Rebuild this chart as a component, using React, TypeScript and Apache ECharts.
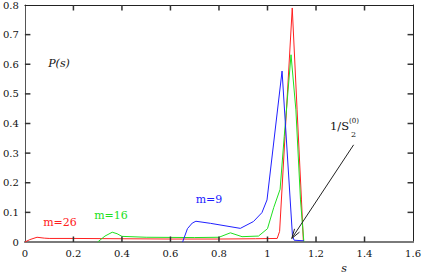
import React, { useEffect, useRef } from "react";
import * as echarts from "echarts";

const xTicks = [0, 0.2, 0.4, 0.6, 0.8, 1, 1.2, 1.4, 1.6];
const yTicks = [0, 0.1, 0.2, 0.3, 0.4, 0.5, 0.6, 0.7, 0.8];

const red26: [number, number][] = [
  [0, 0], [0.02, 0.008], [0.05, 0.016], [0.08, 0.013], [0.1, 0.012], [0.2, 0.012],
  [0.4, 0.011], [0.6, 0.01], [0.8, 0.01], [0.95, 0.011], [1.04, 0.012], [1.05, 0.036],
  [1.102, 0.79], [1.122, 0.446], [1.14, 0.142], [1.148, 0],
];
const green16: [number, number][] = [
  [0.3, 0], [0.33, 0.02], [0.36, 0.033], [0.38, 0.028], [0.4, 0.019], [0.5, 0.016],
  [0.7, 0.015], [0.8, 0.016], [0.847, 0.031], [0.895, 0.018], [0.963, 0.02], [1.0, 0.045],
  [1.026, 0.117], [1.052, 0.178], [1.069, 0.356], [1.097, 0.632], [1.117, 0.446],
  [1.136, 0.142], [1.15, 0],
];
const blue9: [number, number][] = [
  [0.65, 0], [0.67, 0.045], [0.69, 0.064], [0.705, 0.07], [0.765, 0.063], [0.888, 0.046],
  [0.942, 0.069], [0.977, 0.099], [0.998, 0.142], [1.06, 0.577], [1.103, 0.02],
  [1.11, 0.006], [1.15, 0.004],
];
const arrowFrom: [number, number] = [1.355, 0.328];
const arrowTo: [number, number] = [1.1, 0.012];

const FONT = "DejaVu Serif";

export default function App() {
  const ref = useRef<HTMLDivElement>(null);
  useEffect(() => {
    if (!ref.current) return;
    const chart = echarts.init(ref.current, null, { renderer: "svg" });
    chart.setOption({
      animation: false,
      textStyle: { fontFamily: FONT },
      grid: { left: 23, right: 10, top: 4, bottom: 36 },
      xAxis: [
        {
          type: "value", min: 0, max: 1.6, interval: 0.2,
          position: "bottom",
          axisLine: { show: true, onZero: false, lineStyle: { color: "#7a7a7a", width: 2 } },
          axisTick: { show: false },
          axisLabel: {
            color: "#111", fontFamily: FONT, fontSize: 10, margin: 6,
            formatter: (v: number) => String(+v.toFixed(1)),
          },
          splitLine: { show: false },
        },
        {
          type: "value", min: 0, max: 1.6, interval: 0.2,
          position: "top",
          axisLine: { show: true, onZero: false, lineStyle: { color: "#222", width: 1 } },
          axisTick: { show: false },
          axisLabel: { show: false },
          splitLine: { show: false },
        },
      ],
      yAxis: [
        {
          type: "value", min: 0, max: 0.8, interval: 0.1,
          position: "left",
          axisLine: { show: true, onZero: false, lineStyle: { color: "#555", width: 1 } },
          axisTick: { show: false },
          axisLabel: {
            color: "#111", fontFamily: FONT, fontSize: 10, margin: 6,
            formatter: (v: number) => String(+v.toFixed(1)),
          },
          splitLine: { show: false },
        },
        {
          type: "value", min: 0, max: 0.8, interval: 0.1,
          position: "right",
          axisLine: { show: true, onZero: false, lineStyle: { color: "#222", width: 1 } },
          axisTick: { show: false },
          axisLabel: { show: false },
          splitLine: { show: false },
        },
      ],
      series: [
        {
          type: "line", name: "m=26", data: red26, showSymbol: false, symbol: "none",
          lineStyle: { color: "#ff2020", width: 1 }, z: 3,
        },
        {
          type: "line", name: "m=16", data: green16, showSymbol: false, symbol: "none",
          lineStyle: { color: "#20e020", width: 1 }, z: 4,
        },
        {
          type: "line", name: "m=9", data: blue9, showSymbol: false, symbol: "none",
          lineStyle: { color: "#2020ff", width: 1 }, z: 5,
        },
        {
          type: "line", name: "frame", data: [], xAxisIndex: 1, yAxisIndex: 1,
          showSymbol: false, symbol: "none", silent: true,
        },
      ],
    });

    const px = (p: [number, number]) => chart.convertToPixel({ gridIndex: 0 }, p) as number[];
    const tickLen = 5.5;
    const tw = 1.5;
    const tickEls: any[] = [];
    const bl = px([0, 0]);
    const tr = px([1.6, 0.8]);
    xTicks.slice(1, -1).forEach((v) => {
      const x = px([v, 0])[0] - tw / 2;
      tickEls.push({ type: "rect", shape: { x, y: bl[1] - tickLen, width: tw, height: tickLen }, style: { fill: "#333" }, z: 8 });
      tickEls.push({ type: "rect", shape: { x, y: tr[1], width: tw, height: tickLen }, style: { fill: "#333" }, z: 8 });
    });
    yTicks.slice(1, -1).forEach((v) => {
      const y = px([0, v])[1] - tw / 2;
      tickEls.push({ type: "rect", shape: { x: bl[0], y, width: tickLen, height: tw }, style: { fill: "#333" }, z: 8 });
      tickEls.push({ type: "rect", shape: { x: tr[0] - tickLen, y, width: tickLen, height: tw }, style: { fill: "#333" }, z: 8 });
    });

    const p0 = px(arrowFrom);
    const p1 = px(arrowTo);
    const ang = Math.atan2(p0[1] - p1[1], p0[0] - p1[0]);
    const hl = 10, ha = 0.3;
    const h1 = [p1[0] + hl * Math.cos(ang + ha), p1[1] + hl * Math.sin(ang + ha)];
    const h2 = [p1[0] + hl * Math.cos(ang - ha), p1[1] + hl * Math.sin(ang - ha)];
    const textStyle = (t: string, color: string, size: number, italic = false) => ({
      text: t, fill: color, fontSize: size, fontFamily: FONT,
      fontStyle: italic ? "italic" : "normal",
    });
    chart.setOption({
      graphic: [
        ...tickEls,
        { type: "line", shape: { x1: p0[0], y1: p0[1], x2: p1[0], y2: p1[1] }, style: { stroke: "#222", lineWidth: 1 }, z: 10 },
        { type: "polyline", shape: { points: [h1, p1, h2] }, style: { stroke: "#222", lineWidth: 1, fill: "none" }, z: 10 },
        { type: "text", x: 60, y: 222, style: { ...textStyle("m=26", "#ff2020", 11), align: "center", verticalAlign: "middle" } },
        { type: "text", x: 111, y: 215, style: { ...textStyle("m=16", "#20e020", 11), align: "center", verticalAlign: "middle" } },
        { type: "text", x: 209, y: 199, style: { ...textStyle("m=9", "#2020ff", 11), align: "center", verticalAlign: "middle" } },
        { type: "text", x: 59, y: 63, style: { ...textStyle("P(s)", "#111", 11, true), align: "center", verticalAlign: "middle" } },
        { type: "text", x: 330, y: 132, style: { ...textStyle("1/S", "#111", 11.5), align: "left", verticalAlign: "bottom" } },
        { type: "text", x: 349, y: 121, style: { ...textStyle("(0)", "#111", 7), align: "left", verticalAlign: "middle" } },
        { type: "text", x: 351, y: 134, style: { ...textStyle("2", "#111", 8), align: "left", verticalAlign: "middle" } },
        { type: "text", x: 344, y: 268, style: { ...textStyle("s", "#111", 11, true), align: "center", verticalAlign: "middle" } },
      ],
    });
    return () => chart.dispose();
  }, []);
  return <div ref={ref} style={{ width: 424, height: 278, position: "absolute", left: 0, top: 0 }} />;
}
